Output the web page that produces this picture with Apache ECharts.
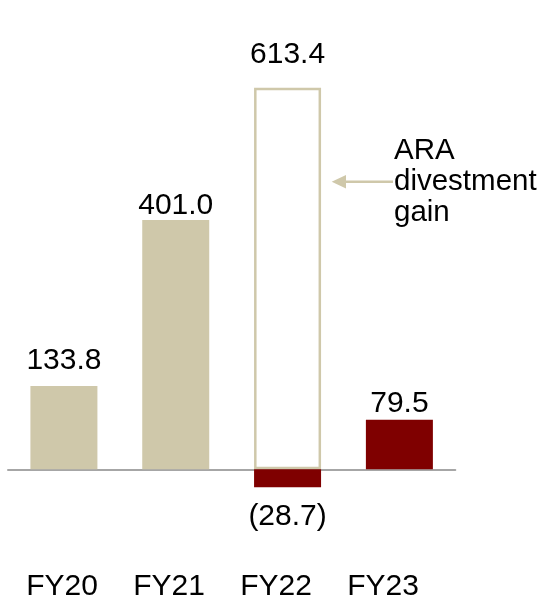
<!DOCTYPE html>
<html>
<head>
<meta charset="utf-8">
<script src="https://cdn.jsdelivr.net/npm/echarts@6/dist/echarts.min.js"></script>
<style>
html,body{margin:0;padding:0;background:#fff;}
#chart{width:544px;height:602px;}
</style>
</head>
<body>
<div id="chart"></div>
<script>
// ---- data ----
const categories = ['FY20', 'FY21', 'FY22', 'FY23'];
const netValues = [133.8, 401.0, -28.7, 79.5];
const divestmentGain = [null, null, 613.4, null];
const annotationText = 'ARA\ndivestment\ngain';

// ---- styles ----
const TAN = '#cfc8aa';
const RED = '#7f0000';
const barColors = [TAN, TAN, RED, RED];
const labelDistances = [10, -1, 15, 1];
const FONT = 'Arial, "Liberation Sans", sans-serif';

function fmt(v) {
  return v < 0 ? '(' + Math.abs(v).toFixed(1) + ')' : v.toFixed(1);
}

const chart = echarts.init(document.getElementById('chart'), null, {renderer: 'canvas'});

const netData = netValues.map((v, i) => ({
  value: v,
  itemStyle: {color: barColors[i]},
  label: {position: v < 0 ? 'bottom' : 'top', distance: labelDistances[i]}
}));

chart.setOption({
  animation: false,
  backgroundColor: '#fff',
  grid: [
    {left: 8, right: 88.7, top: 33.9, bottom: 70.5, containLabel: false},
    {left: 8.5, width: 428, top: 500, bottom: 42, containLabel: false}
  ],
  xAxis: [
    {
      type: 'category', data: categories, gridIndex: 0,
      axisLine: {show: true, onZero: true, lineStyle: {color: '#a6a6a6', width: 2}},
      axisTick: {show: false}, axisLabel: {show: false}, splitLine: {show: false}
    },
    {
      type: 'category', data: categories, gridIndex: 1,
      axisLine: {show: false}, axisTick: {show: false}, splitLine: {show: false},
      axisLabel: {show: true, color: '#000', fontSize: 30, fontFamily: FONT, margin: 14}
    }
  ],
  yAxis: [
    {type: 'value', gridIndex: 0, min: -100, max: 700, show: false, splitLine: {show: false}},
    {type: 'value', gridIndex: 1, show: false, splitLine: {show: false}}
  ],
  series: [
    {
      type: 'bar', xAxisIndex: 0, yAxisIndex: 0,
      data: divestmentGain,
      barWidth: 67, barGap: '-100%',
      itemStyle: {color: '#ffffff', borderColor: TAN, borderWidth: 2.5},
      label: {show: true, position: 'top', distance: 18, color: '#000',
              fontSize: 30, fontFamily: FONT, formatter: p => fmt(p.value)},
      z: 2
    },
    {
      type: 'bar', xAxisIndex: 0, yAxisIndex: 0,
      data: netData,
      barWidth: 67, barGap: '-100%',
      label: {show: true, color: '#000', fontSize: 30, fontFamily: FONT,
              formatter: p => fmt(p.value)},
      z: 3
    }
  ],
  graphic: [
    {
      type: 'line',
      shape: {x1: 344, y1: 181.7, x2: 393, y2: 181.7},
      style: {stroke: TAN, lineWidth: 2.5}
    },
    {
      type: 'polygon',
      shape: {points: [[331.7, 181.7], [346, 175], [346, 188.4]]},
      style: {fill: TAN}
    },
    {
      type: 'text',
      x: 394, y: 135,
      style: {text: annotationText, font: '29.5px ' + FONT, fill: '#000',
               lineHeight: 31, verticalAlign: 'top', align: 'left'}
    }
  ]
});
</script>
</body>
</html>
